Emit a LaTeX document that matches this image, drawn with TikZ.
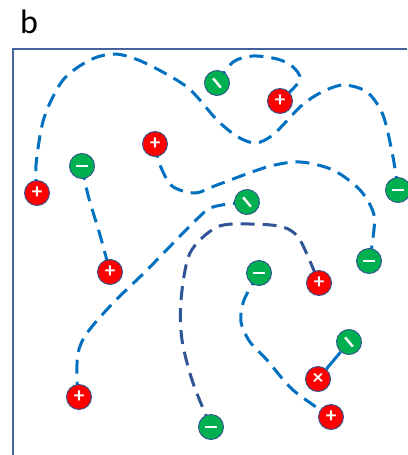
\documentclass[tikz,border=0pt]{standalone}
\usepackage{fontspec}
\setmainfont{Carlito}
\usetikzlibrary{backgrounds}

\definecolor{ionred}{RGB}{255,0,0}
\definecolor{iongreen}{RGB}{0,176,80}
\definecolor{rim}{RGB}{47,82,143}
\definecolor{polyblue}{RGB}{0,112,192}
\definecolor{polynavy}{RGB}{47,85,151}
\definecolor{framecol}{RGB}{68,98,156}

\begin{document}
\begin{tikzpicture}[x=1pt, y=-1pt,
    ion/.style={circle, draw=rim, line width=0.9pt, minimum size=25pt, inner sep=0pt,
        text=white, font=\bfseries\fontsize{21}{21}\selectfont},
    cation/.style={ion, fill=ionred, node contents={+}},
    anion/.style={ion, fill=iongreen, node contents={\rule{12pt}{2.4pt}}},
    aniontilt/.style={anion, rotate=-50},
    crosslink/.style={ion, fill=ionred, node contents={×}},
    polymer/.style={polyblue, line width=3pt, dash pattern=on 14pt off 8pt},
    backbone/.style={polymer, polynavy}]
    \useasboundingbox (0,0) rectangle (407,455);

    % Panel label and frame
    \node[anchor=base west, inner sep=0pt, font=\fontsize{34}{34}\selectfont] (lbl) at (20,33) {b};
    \draw[framecol, line width=1.6pt] (407,49) -- (13,49) -- (13,455);

    % Ions
    \foreach \nm/\x/\y/\kind in {p1/37/193/cation, n1/82/166/anion, p2/155/144/cation,
        t1/217/83/aniontilt, p3/280/101/cation, n2/398/190/anion, t2/247/202/aniontilt,
        p4/110/272/cation, n3/369/261/anion, n4/259/273/anion, p5/319/283/cation,
        t3/349/342/aniontilt, x1/318/379/crosslink, p6/79/397/cation,
        n5/211/427/anion, p7/331/417/cation} {
        \node (\nm) at (\x,\y) [\kind];
    }

    % Chains between the ions
    \begin{scope}[on background layer]
        \draw[polymer] plot[smooth] coordinates {(p1) (36,165) (44,118) (63,80) (90,60)
            (115,54) (143,62) (187,87) (217,120) (238,137) (256,143) (274,134) (300,107)
            (320,93) (343,85) (367,92) (383,115) (393,157) (n2)};
        \draw[polymer] plot[smooth] coordinates {(t1) (233,62) (253,56) (277,59)
            (292,66) (300,80) (p3)};
        \draw[polymer] plot[smooth] coordinates {(p2) (160,165) (172,186) (195,193)
            (217,185) (267,167) (300,162) (333,170) (360,190) (374,215) (372,245) (n3)};
        \draw[polymer] plot[smooth] coordinates {(n1) (88,195) (100,235) (p4)};
        \draw[polymer] plot[smooth] coordinates {(t2) (213,207) (195,221) (147,270)
            (113,303) (87,333) (78,353) (77,380) (p6)};
        \draw[backbone] plot[smooth] coordinates {(n5) (193,383) (182,340) (181,300)
            (190,253) (217,227) (250,224) (283,227) (300,240) (p5)};
        \draw[polymer] plot[smooth] coordinates {(n4) (244,300) (241,322) (250,342)
            (267,360) (293,390) (p7)};
        \draw[polymer, solid] (t3) -- (x1);
    \end{scope}
\end{tikzpicture}
\end{document}
